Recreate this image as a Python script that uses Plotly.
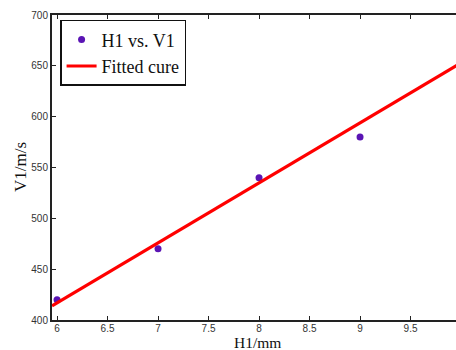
import plotly.graph_objects as go

# Data
h1 = [6, 7, 8, 9]
v1 = [420, 470, 540, 580]
fit_x = [5.95, 10.0]
fit_y = [414, 653]
x_ticks = [6, 6.5, 7, 7.5, 8, 8.5, 9, 9.5, 10]
y_ticks = [400, 450, 500, 550, 600, 650, 700]

SERIF = "Liberation Serif, Times New Roman, serif"

fig = go.Figure()
fig.add_trace(go.Scatter(x=h1, y=v1, mode="markers", name="H1 vs. V1",
                         marker=dict(color="#5a14b4", size=7)))
fig.add_trace(go.Scatter(x=fit_x, y=fit_y, mode="lines", name="Fitted cure",
                         line=dict(color="#ff0000", width=3.2)))
# invisible trace for top axis
fig.add_trace(go.Scatter(x=[h1[0]], y=[v1[0]], xaxis="x2", mode="markers",
                         marker=dict(opacity=0), showlegend=False, hoverinfo="skip"))

axis_common = dict(showgrid=False, zeroline=False, showline=True, linecolor="#222",
                   linewidth=2, ticks="inside", ticklen=4, tickcolor="#222", tickwidth=1,
                   tickfont=dict(family="Liberation Sans", size=10, color="#333"))

fig.update_layout(
    width=456, height=350,
    margin=dict(l=52, r=0, t=15, b=30),
    plot_bgcolor="white", paper_bgcolor="white",
    xaxis=dict(range=[5.95, 9.95], tickvals=x_ticks, ticktext=[str(t) for t in x_ticks],
               ticklabelstandoff=-2, **axis_common),
    xaxis2=dict(range=[5.95, 9.95], overlaying="x", side="top", tickvals=x_ticks,
                showticklabels=False, **axis_common),
    yaxis=dict(range=[400, 700], tickvals=y_ticks, **axis_common),
    showlegend=True,
    legend=dict(x=0.02, y=0.984, xanchor="left", yanchor="top",
                bgcolor="white", bordercolor="#111", borderwidth=1.5,
                font=dict(family=SERIF, size=18, color="#111"),
                tracegroupgap=0, itemwidth=30),
    annotations=[
        dict(text="H1/mm", xref="paper", yref="paper", x=(257 - 52) / 404, y=0,
             yshift=-22, yanchor="middle", showarrow=False,
             font=dict(family=SERIF, size=15.5, color="#111")),
        dict(text="V1/m/s", xref="paper", yref="paper", x=0, xshift=-32, y=1 - (167 - 15) / 305,
             textangle=-90, xanchor="center", showarrow=False,
             font=dict(family=SERIF, size=17, color="#111")),
    ],
)

fig.write_html("out.html", config={"displayModeBar": False},
               post_script="document.body.style.margin='0';document.body.style.overflow='hidden';")
